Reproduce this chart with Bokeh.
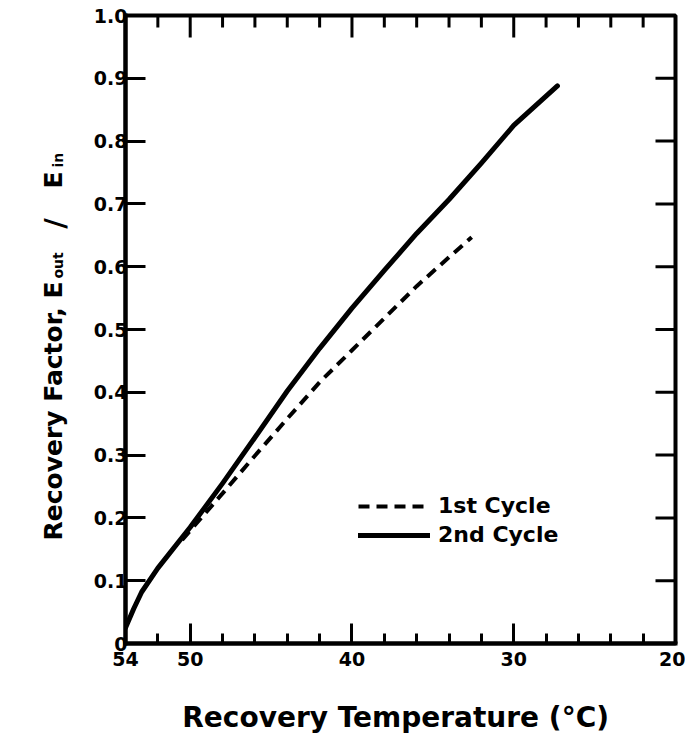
import math
from bokeh.plotting import figure
from bokeh.layouts import row
from bokeh.models import Range1d, FixedTicker, Legend, LegendItem
from bokeh.core.properties import value
from bokeh.embed import file_html
from bokeh.resources import INLINE

# ---- data ----
temp_1st = [50.5, 48.0, 46.0, 44.0, 42.0, 40.0, 38.0, 36.0, 34.0, 32.6]
rf_1st = [0.165, 0.239, 0.299, 0.358, 0.416, 0.467, 0.518, 0.569, 0.615, 0.647]

temp_2nd = [54.0, 53.5, 53.0, 52.0, 50.0, 48.0, 46.0, 44.0, 42.0, 40.0, 38.0, 36.0, 34.0, 32.0, 30.0, 27.3]
rf_2nd = [0.025, 0.055, 0.082, 0.12, 0.185, 0.255, 0.328, 0.402, 0.470, 0.534, 0.594, 0.653, 0.707, 0.765, 0.825, 0.888]

x_major_ticks = [54, 50, 40, 30, 20]
x_minor_ticks = [52, 48, 46, 44, 42, 38, 36, 34, 32, 28, 26, 24, 22]
y_ticks = [0, 0.1, 0.2, 0.3, 0.4, 0.5, 0.6, 0.7, 0.8, 0.9, 1.0]
y_tick_labels = ["0", "0.1", "0.2", "0.3", "0.4", "0.5", "0.6", "0.7", "0.8", "0.9", "1.0"]
series_names = ["1st Cycle", "2nd Cycle"]

# y-axis title pieces: main text and subscripts
ytitle_main = ["Recovery  Factor,  E", "E"]
ytitle_slash = ["/"]
ytitle_subs = ["out", "in"]

FONT = "DejaVu Sans"
X0, X1 = 54, 20
Y0, Y1 = 0, 1.0
FRAME_W, FRAME_H = 550, 628
BORDER_TOP, BORDER_BOTTOM = 15, 89
TITLE_W = 70

# ---- main plot ----
p = figure(frame_width=FRAME_W, frame_height=FRAME_H,
           x_range=Range1d(X0, X1), y_range=Range1d(Y0, Y1),
           output_backend="svg", toolbar_location=None,
           min_border_left=125 - TITLE_W, min_border_right=10,
           min_border_top=BORDER_TOP, min_border_bottom=BORDER_BOTTOM)
p.outline_line_color = "black"
p.outline_line_width = 4
p.xgrid.visible = False
p.ygrid.visible = False
p.background_fill_color = "white"
p.border_fill_color = "white"


def style_axis(ax, major_in, minor_in):
    ax.axis_line_width = 4
    ax.axis_line_color = "black"
    ax.axis_line_cap = "square"
    ax.major_tick_line_width = 3
    ax.minor_tick_line_width = 3
    ax.major_tick_line_color = "black"
    ax.minor_tick_line_color = "black"
    ax.major_tick_in = major_in
    ax.major_tick_out = 0
    ax.minor_tick_in = minor_in
    ax.minor_tick_out = 0
    ax.major_label_text_font = FONT
    ax.major_label_text_font_style = "bold"
    ax.major_label_text_color = "black"


xt = FixedTicker(ticks=x_major_ticks, minor_ticks=x_minor_ticks)
yt = FixedTicker(ticks=y_ticks, minor_ticks=[])

xb = p.xaxis[0]
xb.ticker = xt
style_axis(xb, 20, 10)
xb.major_label_text_font_size = "19px"
xb.major_label_standoff = 8
xb.axis_label = "Recovery  Temperature (\u00b0C)"
xb.axis_label_text_font = FONT
xb.axis_label_text_font_style = "bold"
xb.axis_label_text_font_size = "28px"
xb.axis_label_text_color = "black"
xb.axis_label_standoff = 32

yl = p.yaxis[0]
yl.ticker = yt
style_axis(yl, 20, 0)
yl.major_label_text_font_size = "19px"
yl.major_label_standoff = -2
yl.major_label_overrides = {t: s for t, s in zip(y_ticks, y_tick_labels)}

# top and right tick marks (inward), from the same tick lists
p.ray(x=x_major_ticks, y=[Y1] * len(x_major_ticks), length=22, length_units="screen",
      angle=-math.pi / 2, line_color="black", line_width=3)
p.ray(x=x_minor_ticks, y=[Y1] * len(x_minor_ticks), length=12, length_units="screen",
      angle=-math.pi / 2, line_color="black", line_width=3)
p.ray(x=[X1] * len(y_ticks), y=y_ticks, length=20, length_units="screen",
      angle=math.pi, line_color="black", line_width=3)

r1 = p.line(temp_1st, rf_1st, line_color="black", line_width=4, line_dash="11 7")
r2 = p.line(temp_2nd, rf_2nd, line_color="black", line_width=5, line_join="round", line_cap="round")

legend = Legend(items=[LegendItem(label=series_names[0], renderers=[r1]),
                       LegendItem(label=series_names[1], renderers=[r2])],
                location=(233, 96), orientation="vertical",
                border_line_color=None, background_fill_alpha=0,
                padding=0, margin=0, spacing=4,
                glyph_width=72, glyph_height=20, label_height=20,
                label_standoff=8, label_text_font=FONT, label_text_color="black",
                label_text_font_style="bold", label_text_font_size="22px")
p.add_layout(legend)

# ---- y-axis title panel: frame aligned with the main frame, pixel units from frame bottom ----
t = figure(frame_width=TITLE_W, frame_height=FRAME_H,
           x_range=Range1d(0, TITLE_W), y_range=Range1d(0, FRAME_H),
           output_backend="svg", toolbar_location=None, x_axis_type=None, y_axis_type=None,
           min_border_left=0, min_border_right=0,
           min_border_top=BORDER_TOP, min_border_bottom=BORDER_BOTTOM)
t.outline_line_color = None
t.xgrid.visible = False
t.ygrid.visible = False
t.background_fill_color = "white"
t.border_fill_color = "white"

t.text(x=[53, 53], y=[103, 455], text=ytitle_main,
       angle=math.pi / 2, text_font=value(FONT), text_font_style="bold", text_font_size="25px",
       text_align="left", text_baseline="alphabetic", text_color="black")
t.text(x=[54], y=[420], text=ytitle_slash,
       angle=math.pi / 2, text_font=value(FONT), text_font_style="bold", text_font_size="29px",
       text_align="center", text_baseline="alphabetic", text_color="black")
t.text(x=[57, 57], y=[365, 476], text=ytitle_subs,
       angle=math.pi / 2, text_font=value(FONT), text_font_style="bold", text_font_size="14px",
       text_align="left", text_baseline="alphabetic", text_color="black")

layout = row(t, p, spacing=0)
open("out.html", "w").write(file_html(layout, INLINE))
